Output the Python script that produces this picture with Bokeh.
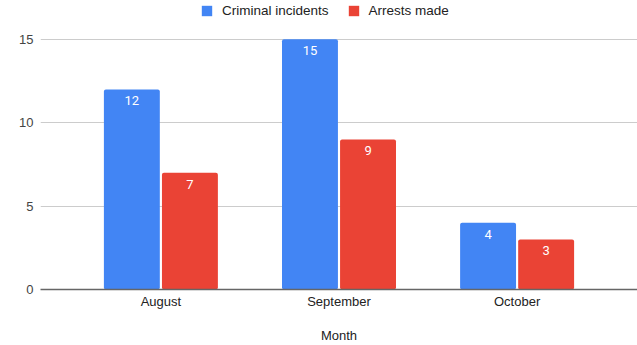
from bokeh.plotting import figure
from bokeh.models import ColumnDataSource, FactorRange, Range1d, FixedTicker, Legend, LegendItem
from bokeh.transform import dodge
from bokeh.core.properties import value
from bokeh.embed import file_html
from bokeh.resources import INLINE

months = ["August", "September", "October"]
incidents = [12, 15, 4]
arrests = [7, 9, 3]
y_ticks = [0, 5, 10, 15]

BLUE = "#4285F4"
RED = "#EA4335"
FONT = "Liberation Sans"
LBL_FONT = "Roboto"

src = ColumnDataSource(dict(
    month=months,
    incidents=incidents,
    arrests=arrests,
    inc_lbl=[str(v) for v in incidents],
    arr_lbl=[str(v) for v in arrests],
))

# frame spans full top of the canvas; extra headroom above 15 holds the legend
y_top = 15 * 290 / 251.0

p = figure(width=637, height=345, output_backend="svg", toolbar_location=None,
           x_range=FactorRange(*months, range_padding=0.1173),
           y_range=Range1d(0, y_top))
p.min_border_left = 40
p.min_border_right = 0
p.min_border_top = 0
p.min_border_bottom = 55
p.outline_line_color = None
p.background_fill_color = "white"
p.border_fill_color = "white"

bw = 0.314
off = 0.163
r1 = p.vbar(x=dodge("month", -off, range=p.x_range), top="incidents", width=bw,
            source=src, fill_color=BLUE, line_color=None, border_radius=2)
r2 = p.vbar(x=dodge("month", off, range=p.x_range), top="arrests", width=bw,
            source=src, fill_color=RED, line_color=None, border_radius=2)

for col, lbl, o in (("incidents", "inc_lbl", -off), ("arrests", "arr_lbl", off)):
    p.text(x=dodge("month", o, range=p.x_range), y=col, text=lbl, source=src,
           text_color="white", text_font=value(LBL_FONT), text_font_size="13px",
           text_align="center", text_baseline="top", y_offset=7)

# axes
p.yaxis.ticker = FixedTicker(ticks=y_ticks)
p.yaxis.axis_line_color = None
p.yaxis.major_tick_line_color = None
p.yaxis.major_tick_out = 0
p.yaxis.major_tick_in = 0
p.yaxis.minor_tick_line_color = None
p.yaxis.major_label_text_font = FONT
p.yaxis.major_label_text_font_size = "13px"
p.yaxis.major_label_text_color = "#444444"
p.yaxis.major_label_standoff = 7

p.xaxis.axis_line_color = "#666666"
p.xaxis.axis_line_width = 1.5
p.xaxis.major_tick_line_color = None
p.xaxis.major_tick_out = 0
p.xaxis.major_tick_in = 0
p.xaxis.minor_tick_line_color = None
p.xaxis.major_label_text_font = FONT
p.xaxis.major_label_text_font_size = "13px"
p.xaxis.major_label_text_color = "#222222"
p.xaxis.major_label_standoff = 4
p.xaxis.axis_label = "Month"
p.xaxis.axis_label_text_font = FONT
p.xaxis.axis_label_text_font_size = "13px"
p.xaxis.axis_label_text_font_style = "normal"
p.xaxis.axis_label_text_color = "#222222"
p.xaxis.axis_label_standoff = 16

p.xgrid.grid_line_color = None
p.ygrid.grid_line_color = "#cccccc"
p.ygrid.grid_line_width = 1

legend = Legend(items=[LegendItem(label="Criminal incidents", renderers=[r1]),
                       LegendItem(label="Arrests made", renderers=[r2])],
                orientation="horizontal", location=(160, 271),
                glyph_width=13, glyph_height=13, label_standoff=9, spacing=18,
                padding=0, margin=0, border_line_color=None,
                background_fill_alpha=0,
                label_text_font=FONT, label_text_font_size="13.5px",
                label_text_color="#222222")
p.add_layout(legend, "center")

open("out.html", "w").write(file_html(p, INLINE))
